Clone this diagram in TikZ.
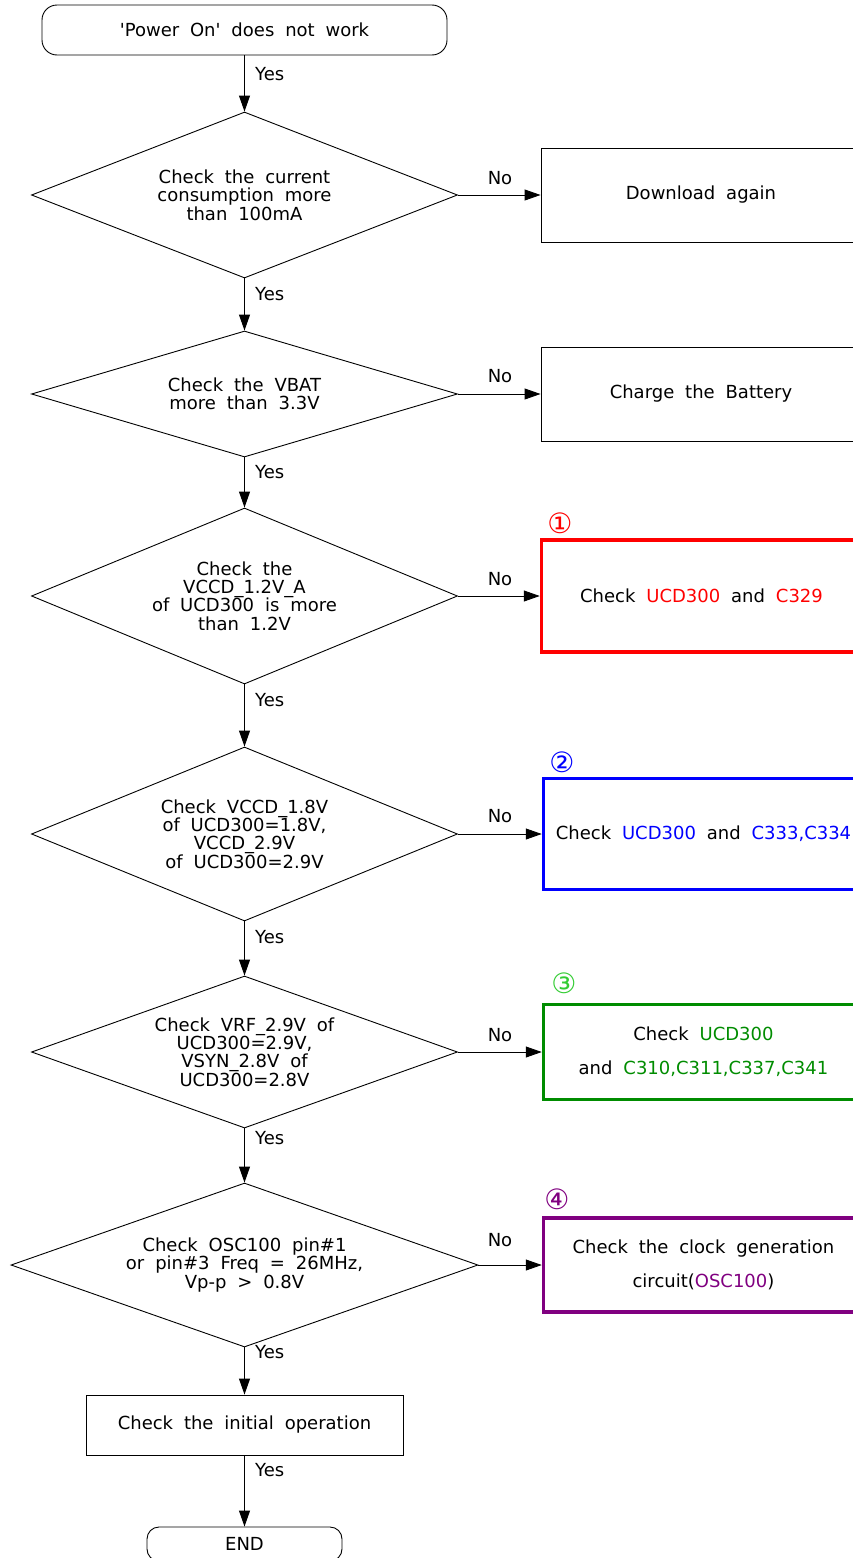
\documentclass[tikz,border=0pt]{standalone}
\usepackage{fontspec}
\setmainfont{DejaVu Sans}[WordSpace=1.9]
\usetikzlibrary{shapes.geometric,arrows.meta}

\definecolor{flowcolor0000}{RGB}{0,0,0}
\definecolor{flowcolor0001}{RGB}{255,0,0}
\definecolor{flowcolor0002}{RGB}{0,0,255}
\definecolor{flowcolor0003}{RGB}{0,140,0}
\definecolor{flowcolor0004}{RGB}{51,204,51}
\definecolor{flowcolor0005}{RGB}{128,0,128}

\begin{document}
\begin{tikzpicture}[
  yscale = -1,
  fstyle0/.style = {draw=flowcolor0000,line width=0.9pt,rounded corners=15pt,align=center,font=\fontsize{18}{18.5}\selectfont},
  fstyle1/.style = {draw=flowcolor0000,line width=0.9pt,diamond,aspect=2.6,inner sep=0pt,align=center,font=\fontsize{18}{18.3}\selectfont},
  fstyle2/.style = {draw=flowcolor0000,line width=0.9pt,minimum width=320pt,align=center,font=\fontsize{18}{34}\selectfont},
  fstyle3/.style = {fstyle2,line width=3.5pt},
  fstyle4/.style = {color=flowcolor0000,line width=0.9pt,-{Triangle[length=16pt,width=11pt]}},
  fstyle5/.style = {inner sep=0pt,font=\fontsize{18}{18}\selectfont},
  fstyle6/.style = {inner sep=0pt,font=\fontsize{28}{28}\selectfont},
]
  \useasboundingbox (0pt,0pt) rectangle (853pt,1558pt);
  \node[fstyle0,minimum width=405pt,minimum height=50pt] (start) at (244.5pt,30pt) {\textquotesingle Power On\textquotesingle{} does not work};
  \node[fstyle1,minimum width=426pt,minimum height=166pt] (d1) at (244.5pt,195pt) {Check the current\\consumption more\\than 100mA};
  \node[fstyle2,minimum height=94pt] (download) at (701pt,195pt) {Download again};
  \node[fstyle1,minimum width=426pt,minimum height=126pt] (d2) at (244.5pt,394pt) {Check the VBAT\\more than 3.3V};
  \node[fstyle2,minimum height=94pt] (charge) at (701pt,394pt) {Charge the Battery};
  \node[fstyle1,minimum width=426pt,minimum height=176pt] (d3) at (244.5pt,596pt) {Check the\\VCCD\_1.2V\_A\\of UCD300 is more\\than 1.2V};
  \node[fstyle3,draw=flowcolor0001,minimum height=112pt] (fix1) at (701.5pt,596pt) {Check \textcolor{flowcolor0001}{UCD300} and \textcolor{flowcolor0001}{C329}};
  \node[fstyle6,text=flowcolor0001] (num1) at (560pt,523pt) {①};
  \node[fstyle1,minimum width=426pt,minimum height=174pt] (d4) at (244.5pt,834pt) {Check VCCD\_1.8V\\of UCD300=1.8V,\\VCCD\_2.9V\\of UCD300=2.9V};
  \node[fstyle3,draw=flowcolor0002,minimum height=111pt] (fix2) at (703.5pt,834pt) {Check \textcolor{flowcolor0002}{UCD300} and \textcolor{flowcolor0002}{C333,C334}};
  \node[fstyle6,text=flowcolor0002] (num2) at (562pt,762pt) {②};
  \node[fstyle1,minimum width=426pt,minimum height=152pt] (d5) at (244.5pt,1052pt) {Check VRF\_2.9V of\\UCD300=2.9V,\\VSYN\_2.8V of\\UCD300=2.8V};
  \node[fstyle3,draw=flowcolor0003,minimum height=95pt] (fix3) at (703.5pt,1052pt) {Check \textcolor{flowcolor0003}{UCD300}\\and \textcolor{flowcolor0003}{C310,C311,C337,C341}};
  \node[fstyle6,text=flowcolor0004] (num3) at (564pt,983pt) {③};
  \node[fstyle1,aspect=2.85,minimum width=467pt,minimum height=164pt] (d6) at (244.5pt,1265pt) {Check OSC100 pin\#1\\or pin\#3 Freq = 26MHz,\\Vp-p > 0.8V};
  \node[fstyle3,draw=flowcolor0005,minimum height=94pt] (fix4) at (703.5pt,1265pt) {Check the clock generation\\circuit(\textcolor{flowcolor0005}{OSC100})};
  \node[fstyle6,text=flowcolor0005] (num4) at (557pt,1199pt) {④};
  \node[fstyle2,minimum width=317pt,minimum height=60pt] (init) at (244.5pt,1425pt) {Check the initial operation};
  \node[fstyle0,rounded corners=12pt,minimum width=195pt,minimum height=34pt] (finish) at (244.5pt,1544pt) {END};
  % connectors
  \draw[fstyle4] (start.south) -- (d1.north);
  \draw[fstyle4] (d1.south) -- (d2.north);
  \draw[fstyle4] (d2.south) -- (d3.north);
  \draw[fstyle4] (d3.south) -- (d4.north);
  \draw[fstyle4] (d4.south) -- (d5.north);
  \draw[fstyle4] (d5.south) -- (d6.north);
  \draw[fstyle4] (d6.south) -- (init.north);
  \draw[fstyle4] (init.south) -- (finish.north);
  \draw[fstyle4] (d1.east) -- (download.west);
  \draw[fstyle4] (d2.east) -- (charge.west);
  \draw[fstyle4] (d3.east) -- (fix1.west);
  \draw[fstyle4] (d4.east) -- (fix2.west);
  \draw[fstyle4] (d5.east) -- (fix3.west);
  \draw[fstyle4] (d6.east) -- (fix4.west);
  % labels
  \node[fstyle5,anchor=west] (yes1) at (255pt,74pt) {Yes};
  \node[fstyle5,anchor=west] (yes2) at (255pt,294pt) {Yes};
  \node[fstyle5,anchor=west] (yes3) at (255pt,472pt) {Yes};
  \node[fstyle5,anchor=west] (yes4) at (255pt,700pt) {Yes};
  \node[fstyle5,anchor=west] (yes5) at (255pt,937pt) {Yes};
  \node[fstyle5,anchor=west] (yes6) at (255pt,1138pt) {Yes};
  \node[fstyle5,anchor=west] (yes7) at (255pt,1352pt) {Yes};
  \node[fstyle5,anchor=west] (yes8) at (255pt,1470pt) {Yes};
  \node[fstyle5] (no1) at (500pt,178pt) {No};
  \node[fstyle5] (no2) at (500pt,376pt) {No};
  \node[fstyle5] (no3) at (500pt,579pt) {No};
  \node[fstyle5] (no4) at (500pt,816pt) {No};
  \node[fstyle5] (no5) at (500pt,1035pt) {No};
  \node[fstyle5] (no6) at (500pt,1240pt) {No};
\end{tikzpicture}
\end{document}
